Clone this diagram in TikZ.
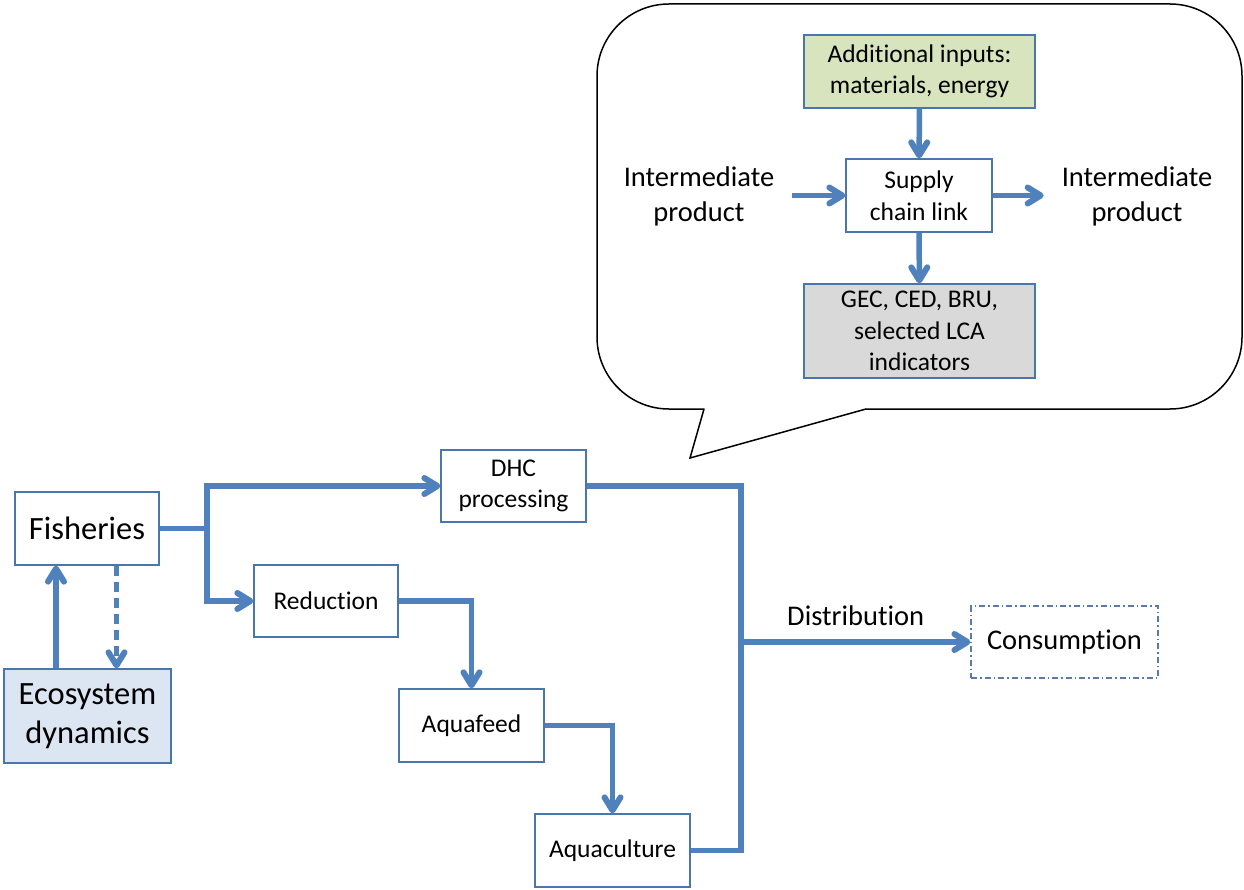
\documentclass[tikz,border=0pt]{standalone}
\usepackage{fontspec}
\setmainfont{Carlito}[RawFeature={-liga}]
\usetikzlibrary{arrows.meta}
\definecolor{ac}{HTML}{4F81BD}
\definecolor{bc}{HTML}{4A76AE}
\definecolor{greenf}{HTML}{D7E4BD}
\definecolor{grayf}{HTML}{D9D9D9}
\definecolor{ecof}{HTML}{DCE6F2}
\definecolor{consb}{HTML}{5A7BA8}
\begin{document}
\begin{tikzpicture}[x=1pt,y=-1pt,
 box/.style={draw=bc, line width=1.3pt, inner sep=0pt, align=center, text=black},
 conn/.style={draw=ac, line width=5.5pt},
 arr/.style={conn, -{Straight Barb[length=13pt,width=16pt,line width=6pt,line cap=round,line join=round]}},
 fS/.style={font=\fontsize{25.5}{31.5}\selectfont},
 fM/.style={font=\fontsize{28.5}{35}\selectfont},
 fL/.style={font=\fontsize{32.5}{39}\selectfont}]
\useasboundingbox (0,0) rectangle (1244,890);

% speech bubble
\draw[line width=1.5pt, rounded corners=72pt] (597,4) rectangle (1242,409);
\fill[white] (704,409) -- (690,458) -- (866,409) -- (864,407.6) -- (706,407.6) -- cycle;
\draw[line width=1.5pt, line join=miter] (704,409) -- (690,458) -- (866,409);

% bubble content
\node[box, fS, fill=greenf, minimum width=231pt, minimum height=73pt] (add) at (919.5,71.5) {Additional inputs:\\materials, energy};
\node[box, fS, fill=white, minimum width=146pt, minimum height=73pt] (sup) at (919,195.5) {Supply\\chain link};
\node[box, fS, fill=grayf, minimum width=231pt, minimum height=94pt] (gec) at (919.5,331) {GEC, CED, BRU,\\selected LCA\\indicators};
\node[fM, align=center, inner sep=0pt] (imL) at (699,196) {Intermediate\\product};
\node[fM, align=center, inner sep=0pt] (imR) at (1137,196) {Intermediate\\product};
\draw[arr] (add) -- (sup);
\draw[arr] (sup) -- (gec);
\draw[arr] ([xshift=-53pt]sup.west) -- (sup.west);
\draw[arr] (sup.east) -- ([xshift=51pt]sup.east);

% lower chain
\node[box, fL, fill=white, minimum width=144pt, minimum height=73pt] (fish) at (87,528.5) {Fisheries};
\node[box, fL, fill=ecof, minimum width=167pt, minimum height=94pt] (eco) at (87.5,716) {Ecosystem\\dynamics};
\node[box, fS, fill=white, minimum width=144pt, minimum height=72pt] (red) at (326,601) {Reduction};
\node[box, fS, fill=white, minimum width=145pt, minimum height=72pt] (dhc) at (513.5,486) {DHC\\processing};
\node[box, fS, fill=white, minimum width=145pt, minimum height=73pt] (aqf) at (471.5,725.5) {Aquafeed};
\node[box, fS, fill=white, minimum width=155pt, minimum height=73pt] (aqc) at (612.5,850.5) {Aquaculture};
\node[box, fM, draw=consb, line width=1.2pt, dash pattern=on 6pt off 3pt on 1.5pt off 3pt, minimum width=187pt, minimum height=72pt] (cons) at (1064.5,642) {Consumption};

\coordinate (j1) at (207,528.5);
\coordinate (jd) at (741,642);

\draw[conn] (fish.east) -- (j1);
\draw[arr] (j1) |- (dhc.west);
\draw[arr] (j1) |- (red.west);
\draw[arr] (red.east) -| (aqf.north);
\draw[arr] (aqf.east) -| (aqc.north);
\draw[conn] (dhc.east) -| (jd);
\draw[conn] (aqc.east) -| (jd);
\draw[arr] (jd) -- (cons.west) node[midway, above=10pt, fM, text=black] (dist) {Distribution};

\draw[arr] ([xshift=-31.5pt]eco.north) -- ([xshift=-31.5pt]eco.north |- fish.south);
\draw[arr, dash pattern=on 10pt off 6pt] ([xshift=29.5pt]fish.south) -- ([xshift=29.5pt]fish.south |- eco.north);
\end{tikzpicture}
\end{document}
